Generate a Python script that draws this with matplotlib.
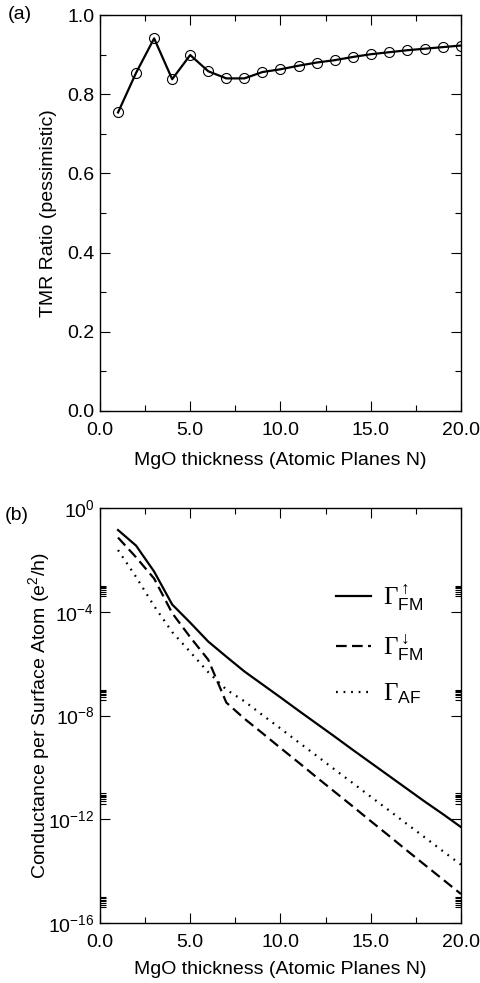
"""TMR ratio and spin-resolved conductance vs MgO thickness (two stacked panels)."""

import numpy as np
import matplotlib
matplotlib.use("Agg")
import matplotlib.pyplot as plt
from matplotlib import ticker

# MgO thickness, atomic planes
n_planes = list(range(1, 21))

# (a) pessimistic TMR ratio
tmr = [0.754, 0.854, 0.941, 0.838, 0.899, 0.858, 0.840, 0.840, 0.856, 0.863,
       0.872, 0.880, 0.886, 0.894, 0.901, 0.906, 0.911, 0.915, 0.919, 0.923]

# (b) conductance per surface atom, log10 of e^2/h
log_g_fm_up = [-0.85, -1.45, -2.45, -3.72, -4.42, -5.15, -5.73, -6.30, -6.80, -7.30,
               -7.81, -8.31, -8.81, -9.32, -9.82, -10.32, -10.82, -11.32, -11.80, -12.30]
log_g_fm_dn = [-1.14, -1.90, -2.72, -4.05, -4.98, -5.85, -7.50, -8.12, -8.68, -9.25,
               -9.81, -10.38, -10.94, -11.50, -12.07, -12.63, -13.20, -13.76, -14.32, -14.88]
log_g_af = [-1.62, -2.66, -3.78, -4.78, -5.55, -6.33, -7.00, -7.45, -7.98, -8.50,
            -9.03, -9.55, -10.08, -10.60, -11.13, -11.65, -12.18, -12.70, -13.23, -13.75]

labels = [r"$\Gamma^{\uparrow}_{\mathsf{FM}}$",
          r"$\Gamma^{\downarrow}_{\mathsf{FM}}$",
          r"$\Gamma_{\mathsf{AF}}$"]

plt.rcParams.update({
    "font.family": ["Liberation Sans", "DejaVu Sans"],
    "font.size": 14,
    "mathtext.fontset": "custom",
    "mathtext.rm": "Liberation Serif",
    "mathtext.it": "Liberation Serif:italic",
    "mathtext.sf": "Liberation Sans",
    "axes.linewidth": 1.0,
})

fig = plt.figure(figsize=(4.8, 9.83), dpi=100)
ax_a = fig.add_axes([0.2083, 0.5819, 0.752, 0.4028])
ax_b = fig.add_axes([0.2083, 0.0610, 0.752, 0.4222])


def style_ticks(ax):
    ax.tick_params(which="both", direction="in", top=True, right=True,
                   width=0.8, labelsize=14)
    ax.tick_params(which="major", length=7, pad=4)
    ax.tick_params(which="minor", length=4)
    ax.tick_params(axis="x", which="major", pad=8)


# ---- (a) ----
ax_a.plot(n_planes, tmr, "-", color="black", lw=1.6, marker="o", ms=7.2,
          mfc="none", mec="black", mew=0.8)
ax_a.set_xlim(0, 20)
ax_a.set_ylim(0, 1.0)
ax_a.xaxis.set_major_locator(ticker.MultipleLocator(5))
ax_a.xaxis.set_minor_locator(ticker.MultipleLocator(2.5))
ax_a.yaxis.set_major_locator(ticker.MultipleLocator(0.2))
ax_a.yaxis.set_minor_locator(ticker.MultipleLocator(0.1))
ax_a.xaxis.set_major_formatter(ticker.FormatStrFormatter("%.1f"))
ax_a.yaxis.set_major_formatter(ticker.FormatStrFormatter("%.1f"))
style_ticks(ax_a)
ax_a.set_xlabel("MgO thickness (Atomic Planes N)", fontsize=14, labelpad=9)
ax_a.set_ylabel("TMR Ratio (pessimistic)", fontsize=14, labelpad=7)
fig.text(0.017, 0.985, "(a)", fontsize=14, va="center", ha="left")

# ---- (b) ----
ax_b.plot(n_planes, 10.0 ** np.array(log_g_fm_up), color="black", lw=1.6,
          label=labels[0])
ax_b.plot(n_planes, 10.0 ** np.array(log_g_fm_dn), color="black", lw=1.6,
          dashes=(4.8, 2.4), label=labels[1])
ax_b.plot(n_planes, 10.0 ** np.array(log_g_af), color="black", lw=1.6,
          dashes=(0.8, 2.6), label=labels[2])
ax_b.set_yscale("log")
ax_b.set_xlim(0, 20)
ax_b.set_ylim(1e-16, 1e0)
ax_b.xaxis.set_major_locator(ticker.MultipleLocator(5))
ax_b.xaxis.set_minor_locator(ticker.MultipleLocator(2.5))
ax_b.xaxis.set_major_formatter(ticker.FormatStrFormatter("%.1f"))
decades = [0, -4, -8, -12, -16]
ax_b.yaxis.set_major_locator(ticker.FixedLocator([10.0 ** e for e in decades]))
ax_b.yaxis.set_minor_locator(ticker.FixedLocator(
    [s * 10.0 ** e for e in decades[1:] for s in range(4, 11)]))
ax_b.yaxis.set_minor_formatter(ticker.NullFormatter())
ax_b.yaxis.set_major_formatter(ticker.FuncFormatter(
    lambda v, p: r"$\mathsf{10^{%d}}$" % round(np.log10(v))))
style_ticks(ax_b)
ax_b.set_xlabel("MgO thickness (Atomic Planes N)", fontsize=14, labelpad=7)
ax_b.set_ylabel(r"Conductance per Surface Atom ($\mathsf{e^2}$/h)", fontsize=14,
                labelpad=-3)
fig.text(0.010, 0.476, "(b)", fontsize=14, va="center", ha="left")

ax_b.legend(loc="upper left", bbox_to_anchor=(0.655, 0.82), frameon=False,
            fontsize=18, handlelength=1.4, handletextpad=0.45, labelspacing=0.75,
            borderpad=0, borderaxespad=0)

fig.savefig("out.png", dpi=100)
